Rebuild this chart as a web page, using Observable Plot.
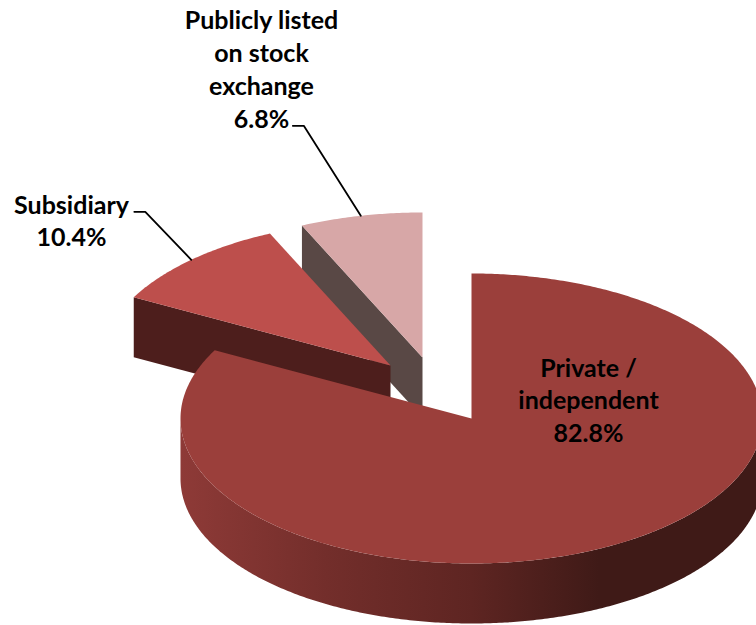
<!DOCTYPE html>
<html>
<head>
<meta charset="utf-8">
<script src="https://cdn.jsdelivr.net/npm/d3@7"></script>
<script src="https://cdn.jsdelivr.net/npm/@observablehq/plot@0.6"></script>
<style>
html,body{margin:0;padding:0;background:#fff;overflow:hidden}
</style>
</head>
<body>
<div id="chart"></div>
<script>
// Data
const categories = ["Private /\nindependent", "Subsidiary", "Publicly listed\non stock\nexchange"];
const shares = [82.8, 10.4, 6.8];

// Layout of the tilted, exploded pie (pixels of the 756x625 frame)
const rx = 291, ry = 145, depth = 60;
const apexX = [471, 390, 422];
const apexY = [418, 365, 357];
const topColors = ["#9b3f3b", "#bd4f4c", "#d7a7a7"];
const wallColors = ["#4d1e1c", "#4d1e1c", "#594845"];
const labelX = [588, 71, 261];
const labelY = [398.5, 219, 67.5];
const leaderElbow = [null, [-46, -48], [-57, -90]];
const leaderStub = [null, -11, -11];

// Cumulative angles in radians, clockwise from twelve o'clock
const total = d3.sum(shares);
const cum = d3.cumsum(shares);
const startAngle = shares.map((_, i) => (i ? cum[i - 1] : 0) / total * 2 * Math.PI);
const endAngle = cum.map(c => c / total * 2 * Math.PI);

const rim = (i, a, dy = 0) => ({
  x: apexX[i] + rx * Math.sin(a),
  y: apexY[i] - ry * Math.cos(a) + dy
});
const arc = (i, a0, a1, dy = 0) => {
  const n = Math.max(2, Math.ceil(Math.abs(a1 - a0) / 0.01));
  return d3.range(n + 1).map(k => rim(i, a0 + (a1 - a0) * k / n, dy));
};
const wedge = i => [{x: apexX[i], y: apexY[i]}, ...arc(i, startAngle[i], endAngle[i])];
// Flat face left by the cut at the slice's starting or closing edge
const cutWall = (i, a) => [
  {x: apexX[i], y: apexY[i]}, rim(i, a),
  rim(i, a, depth), {x: apexX[i], y: apexY[i] + depth}
];
// The curved front wall of the big slice, from three o'clock round to nine o'clock
const frontWall = i => [
  ...arc(i, Math.PI / 2, 3 * Math.PI / 2),
  ...arc(i, 3 * Math.PI / 2, Math.PI / 2, depth)
];
const poly = (pts, fill) => Plot.line(pts, {x: "x", y: "y", fill, stroke: "none", curve: "linear"});

const leader = i => {
  const mid = (startAngle[i] + endAngle[i]) / 2;
  const p = rim(i, mid);
  const e = {x: p.x + leaderElbow[i][0], y: p.y + leaderElbow[i][1]};
  return [p, e, {x: e.x + leaderStub[i], y: e.y}];
};

const labels = categories.map((c, i) => ({
  text: `${c}\n${shares[i].toFixed(1)}%`,
  x: labelX[i],
  y: labelY[i]
}));

const defs = () => {
  const d = d3.create("svg:defs");
  const g = d.append("linearGradient").attr("id", "wallShade")
    .attr("x1", 0).attr("x2", 1).attr("y1", 0).attr("y2", 0);
  [[0, "#8e3a37"], [0.25, "#732e2b"], [0.5, "#5e2522"], [0.72, "#3f1a17"], [1, "#3f1a17"]]
    .forEach(([o, c]) => g.append("stop").attr("offset", o).attr("stop-color", c));
  return d.node();
};

const chart = Plot.plot({
  width: 756,
  height: 625,
  margin: 0,
  x: {axis: null, domain: [0, 756]},
  y: {axis: null, domain: [625, 0]},
  style: {background: "#fff", overflow: "hidden"},
  marks: [
    defs,
    // back to front: listed slice, subsidiary slice, big slice
    poly(cutWall(2, startAngle[2]), wallColors[2]),
    poly(wedge(2), topColors[2]),
    poly(cutWall(1, startAngle[1]), wallColors[1]),
    poly(wedge(1), topColors[1]),
    poly(frontWall(0), "url(#wallShade)"),
    poly(wedge(0), topColors[0]),
    Plot.line(leader(1), {x: "x", y: "y", stroke: "#000", strokeWidth: 1.8, curve: "linear"}),
    Plot.line(leader(2), {x: "x", y: "y", stroke: "#000", strokeWidth: 1.8, curve: "linear"}),
    Plot.text(labels, {
      x: "x", y: "y", text: "text",
      fontFamily: "Lato, 'Open Sans', sans-serif",
      fontWeight: 700,
      fontSize: 25,
      lineHeight: 1.31,
      fill: "#000",
      textAnchor: "middle"
    })
  ]
});
document.getElementById("chart").appendChild(chart);
</script>
</body>
</html>
